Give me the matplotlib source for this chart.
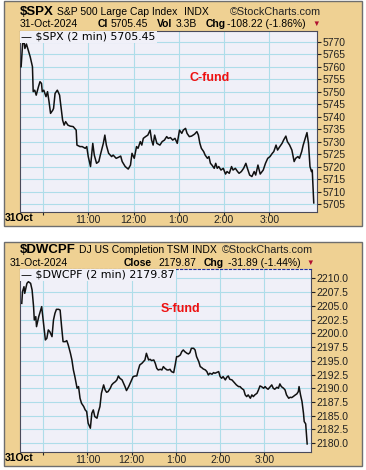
import numpy as np
import matplotlib.pyplot as plt
from matplotlib.patches import Rectangle

plt.rcParams['font.family'] = ['Liberation Sans', 'DejaVu Sans']

# minutes after 9:30 and closing values
spx_min = [1, 3, 5, 6, 8, 13, 16, 17, 19, 21, 24, 26, 28, 29, 31, 34, 36, 38, 40, 43,
           44, 46, 49, 52, 53, 56, 58, 60, 63, 66, 70, 74, 75, 79, 82, 86, 88, 90, 93, 96,
           98, 101, 104, 106, 110, 112, 114, 117, 121, 123, 127, 130, 133, 135, 139, 143, 146, 148, 151, 154,
           156, 159, 161, 163, 166, 169, 172, 174, 176, 178, 181, 185, 188, 191, 194, 196, 199, 202, 205, 208,
           211, 214, 216, 219, 221, 224, 227, 231, 234, 236, 238, 240, 243, 245, 248, 250, 252, 254, 257, 259,
           261, 263, 266, 269, 272, 274, 277, 280, 282, 285, 288, 290, 293, 296, 299, 301, 304, 307, 310, 312,
           315, 318, 322, 325, 328, 331, 334, 336, 339, 341, 344, 347, 349, 352, 354, 357, 360, 363, 365, 368,
           370, 373, 375, 377, 380, 382, 384, 386, 387, 389]
spx_val = [5760.0, 5769.3, 5769.6, 5767.3, 5769.1, 5764.0, 5760.0, 5750.0, 5750.6, 5748.6,
           5752.0, 5754.0, 5753.3, 5750.0, 5750.6, 5748.0, 5750.0, 5746.0, 5741.3, 5742.6,
           5743.3, 5749.3, 5750.6, 5748.6, 5746.0, 5738.6, 5736.6, 5738.0, 5736.6, 5736.2,
           5736.0, 5734.6, 5728.6, 5728.0, 5728.0, 5727.3, 5728.0, 5724.0, 5720.0, 5729.3,
           5724.6, 5721.3, 5722.0, 5724.6, 5729.3, 5732.6, 5728.6, 5725.3, 5724.0, 5724.6,
           5723.3, 5723.7, 5724.2, 5722.0, 5720.0, 5719.0, 5720.6, 5725.3, 5723.3, 5728.0,
           5727.3, 5730.0, 5728.6, 5731.3, 5732.0, 5732.6, 5734.6, 5730.6, 5728.6, 5732.6,
           5729.3, 5728.6, 5730.0, 5730.6, 5732.0, 5731.3, 5731.6, 5730.6, 5731.3, 5729.3,
           5734.6, 5733.3, 5734.6, 5735.3, 5733.3, 5732.0, 5732.2, 5733.0, 5734.0, 5732.6,
           5729.3, 5727.3, 5726.0, 5724.6, 5723.3, 5724.0, 5721.3, 5720.6, 5719.3, 5721.3,
           5719.3, 5720.0, 5718.6, 5719.3, 5717.0, 5718.0, 5717.3, 5720.0, 5718.6, 5719.3,
           5718.0, 5717.3, 5718.0, 5719.3, 5721.3, 5719.3, 5716.6, 5716.0, 5718.0, 5716.6,
           5720.6, 5717.0, 5718.6, 5721.3, 5723.3, 5724.0, 5725.3, 5726.0, 5728.6, 5726.6,
           5728.0, 5729.3, 5730.6, 5732.2, 5730.0, 5728.6, 5726.6, 5722.0, 5723.3, 5724.0,
           5723.3, 5726.0, 5728.6, 5730.6, 5733.6, 5729.3, 5720.0, 5718.0, 5718.6, 5705.45]

dw_min = [1, 2, 4, 5, 8, 10, 13, 15, 17, 18, 20, 21, 24, 26, 28, 30, 33, 35, 37, 39,
          42, 44, 46, 48, 51, 53, 55, 57, 60, 62, 64, 67, 69, 71, 73, 76, 78, 80, 82, 85,
          87, 89, 91, 94, 96, 98, 100, 103, 105, 107, 109, 112, 114, 116, 118, 121, 123, 125, 128, 130,
          132, 134, 137, 139, 141, 143, 146, 148, 150, 152, 155, 157, 159, 161, 164, 166, 168, 170, 173, 175,
          177, 180, 182, 184, 186, 189, 191, 193, 195, 198, 200, 202, 204, 207, 209, 211, 213, 216, 218, 220,
          222, 225, 227, 229, 231, 234, 236, 238, 241, 243, 245, 247, 250, 252, 254, 256, 259, 261, 263, 265,
          268, 270, 272, 274, 277, 279, 281, 283, 286, 288, 290, 292, 295, 297, 299, 302, 304, 306, 308, 311,
          313, 315, 317, 320, 322, 324, 326, 329, 331, 333, 335, 338, 340, 342, 344, 347, 349, 351, 353, 356,
          358, 360, 363, 365, 367, 369, 372, 374, 376, 377, 379, 381, 383, 384, 386, 388]
dw_val = [2205.45, 2207.58, 2208.48, 2207.27, 2209.09, 2209.39, 2209.09, 2207.88, 2204.85, 2202.42,
          2203.03, 2201.21, 2203.03, 2203.94, 2204.85, 2202.42, 2198.79, 2199.09, 2200.61, 2200.30,
          2199.39, 2202.42, 2203.64, 2204.36, 2204.36, 2204.24, 2201.21, 2198.48, 2198.48, 2198.67,
          2197.88, 2196.36, 2195.15, 2193.33, 2192.12, 2190.00, 2190.30, 2188.18, 2187.27, 2186.67,
          2186.06, 2185.76, 2183.64, 2182.73, 2185.45, 2186.06, 2184.85, 2184.55, 2185.76, 2186.67,
          2189.09, 2190.61, 2189.70, 2189.27, 2189.39, 2190.00, 2190.61, 2190.91, 2191.21, 2191.52,
          2192.24, 2191.82, 2191.52, 2190.91, 2190.30, 2189.58, 2190.30, 2190.91, 2191.52, 2192.12,
          2192.24, 2192.24, 2193.33, 2194.24, 2194.55, 2194.85, 2195.15, 2196.36, 2195.15, 2195.27,
          2195.03, 2195.15, 2194.55, 2193.64, 2193.33, 2193.45, 2193.33, 2193.94, 2193.64, 2193.33,
          2193.33, 2193.45, 2193.03, 2192.85, 2194.24, 2195.76, 2195.76, 2196.06, 2196.67, 2196.97,
          2196.67, 2196.36, 2196.24, 2196.48, 2197.27, 2197.27, 2196.97, 2195.76, 2194.85, 2193.94,
          2193.76, 2193.52, 2193.33, 2193.03, 2192.42, 2192.73, 2192.55, 2192.85, 2192.73, 2192.85,
          2193.03, 2192.12, 2191.82, 2192.12, 2191.52, 2192.00, 2192.24, 2191.64, 2191.52, 2191.21,
          2190.91, 2190.61, 2190.30, 2190.30, 2190.00, 2189.70, 2188.79, 2188.48, 2188.79, 2188.18,
          2188.79, 2188.48, 2188.79, 2189.09, 2189.70, 2190.42, 2190.30, 2190.00, 2190.30, 2190.00,
          2189.82, 2190.30, 2190.61, 2190.00, 2189.82, 2190.18, 2190.00, 2190.79, 2190.30, 2190.00,
          2189.70, 2188.79, 2188.18, 2188.36, 2188.30, 2188.48, 2188.79, 2188.97, 2189.39, 2190.30,
          2188.79, 2187.58, 2185.45, 2183.94, 2183.52, 2179.87]

hour_min = [30, 90, 150, 210, 270, 330]
hour_lbl = ['', '11:00', '12:00', '1:00', '2:00', '3:00']
spx_ticks = np.arange(5705, 5771, 5)
dw_ticks = np.arange(2180.0, 2210.1, 2.5)

W, H = 366, 470
TAN = '#efd193'
BG = '#f0f0f8'
GRID = '#aedde9'

fig = plt.figure(figsize=(W / 100, H / 100), dpi=100)
fig.patch.set_facecolor('white')


def fx(x):
    return x / W


def fy(y):
    return 1 - y / H


def panel(y0, y1):
    r = Rectangle((fx(4), fy(y1)), fx(362) - fx(4), (y1 - y0) / H,
                  transform=fig.transFigure, facecolor=TAN,
                  edgecolor='#6e6e6e', lw=1.0, zorder=-10)
    fig.patches.append(r)


def setup(ax, x, y, ticks, fmt, xlim, ylim):
    ax.set_zorder(2)
    ax.set_facecolor(BG)
    ax.plot(x, y, color='#111111', lw=1.1, zorder=3)
    ax.set_xlim(*xlim)
    ax.set_ylim(*ylim)
    ax.set_xticks(hour_min)
    ax.set_xticklabels(hour_lbl)
    ax.set_yticks(ticks)
    ax.set_yticklabels([fmt.format(t) for t in ticks])
    ax.yaxis.tick_right()
    ax.grid(True, color=GRID, lw=0.8)
    ax.set_axisbelow(True)
    ax.tick_params(axis='y', length=3, width=0.8, pad=1, labelsize=7.5, colors='#222222')
    ax.tick_params(axis='x', length=2, width=0.8, pad=0.5, labelsize=7.5, colors='#222222')
    for s in ax.spines.values():
        s.set_color('#4a4a5a')
        s.set_linewidth(0.8)


# ---- top panel: S&P 500 ----
panel(1, 226)
ax1 = fig.add_axes([fx(20), fy(212), fx(317) - fx(20), (212 - 31) / H])
setup(ax1, spx_min, spx_val, spx_ticks, '{:.0f}', (-0.5, 393.3), (5701.8, 5774.3))
ax1.text(0.005, 0.995, '\u2014 $SPX (2 min) 5705.45', transform=ax1.transAxes, ha='left', va='top',
         fontsize=7.9, family='DejaVu Sans', zorder=5,
         bbox=dict(facecolor=BG, edgecolor='none', pad=0.8))
fig.text(fx(210), fy(78), 'C-fund', color='#ee1111', fontsize=9, fontweight='bold',
         ha='center', va='center', zorder=10)

fig.text(fx(20), fy(12), '$SPX', fontsize=9.5, fontweight='bold', va='center')
fig.text(fx(57), fy(12), 'S&P 500 Large Cap Index', fontsize=7.5, va='center')
fig.text(fx(184), fy(12), 'INDX', fontsize=7.5, va='center')
fig.text(fx(230), fy(12), '\u00a9StockCharts.com', fontsize=7.8, va='center', color='#222222')
fig.text(fx(20), fy(24), '31-Oct-2024', fontsize=7.5, va='center')
fig.text(fx(98), fy(24), 'Cl', fontsize=7.5, fontweight='bold', va='center')
fig.text(fx(111), fy(24), '5705.45', fontsize=7.5, va='center')
fig.text(fx(157), fy(24), 'Vol', fontsize=7.5, fontweight='bold', va='center')
fig.text(fx(176), fy(24), '3.3B', fontsize=7.5, va='center')
fig.text(fx(206), fy(24), 'Chg', fontsize=7.5, fontweight='bold', va='center')
fig.text(fx(227), fy(24), '-108.22 (-1.86%)', fontsize=7.5, va='center')
fig.text(fx(312), fy(24), '\u25bc', fontsize=5.5, color='#b01030', va='center')
fig.text(fx(5), fy(218), '31Oct', fontsize=7.5, fontweight='bold', va='center')

# ---- bottom panel: DJ US Completion ----
panel(242, 466)
ax2 = fig.add_axes([fx(20), fy(452), fx(311) - fx(20), (452 - 269) / H])
setup(ax2, dw_min, dw_val, dw_ticks, '{:.1f}', (-1.4, 393.2), (2178.4, 2211.7))
ax2.spines['top'].set_color('#2030a0')
ax2.spines['top'].set_linestyle((0, (2, 2)))
ax2.text(0.005, 0.995, '\u2014 $DWCPF (2 min) 2179.87', transform=ax2.transAxes, ha='left', va='top',
         fontsize=7.9, family='DejaVu Sans', zorder=5,
         bbox=dict(facecolor=BG, edgecolor='none', pad=0.8))
fig.text(fx(180), fy(309), 'S-fund', color='#ee1111', fontsize=9, fontweight='bold',
         ha='center', va='center', zorder=10)

fig.text(fx(20), fy(250), '$DWCPF', fontsize=9.5, fontweight='bold', va='center')
fig.text(fx(79), fy(250), 'DJ US Completion TSM', fontsize=7.5, va='center')
fig.text(fx(192), fy(250), 'INDX', fontsize=7.5, va='center')
fig.text(fx(222), fy(250), '\u00a9StockCharts.com', fontsize=7.8, va='center', color='#222222')
fig.text(fx(10), fy(263), '31-Oct-2024', fontsize=7.5, va='center')
fig.text(fx(124), fy(263), 'Close', fontsize=7.5, fontweight='bold', va='center')
fig.text(fx(158), fy(263), '2179.87', fontsize=7.5, va='center')
fig.text(fx(204), fy(263), 'Chg', fontsize=7.5, fontweight='bold', va='center')
fig.text(fx(228), fy(263), '-31.89 (-1.44%)', fontsize=7.5, va='center')
fig.text(fx(306), fy(263), '\u25bc', fontsize=5.5, color='#b01030', va='center')
fig.text(fx(5), fy(458), '31Oct', fontsize=7.5, fontweight='bold', va='center')

fig.savefig('out.png', dpi=100)
